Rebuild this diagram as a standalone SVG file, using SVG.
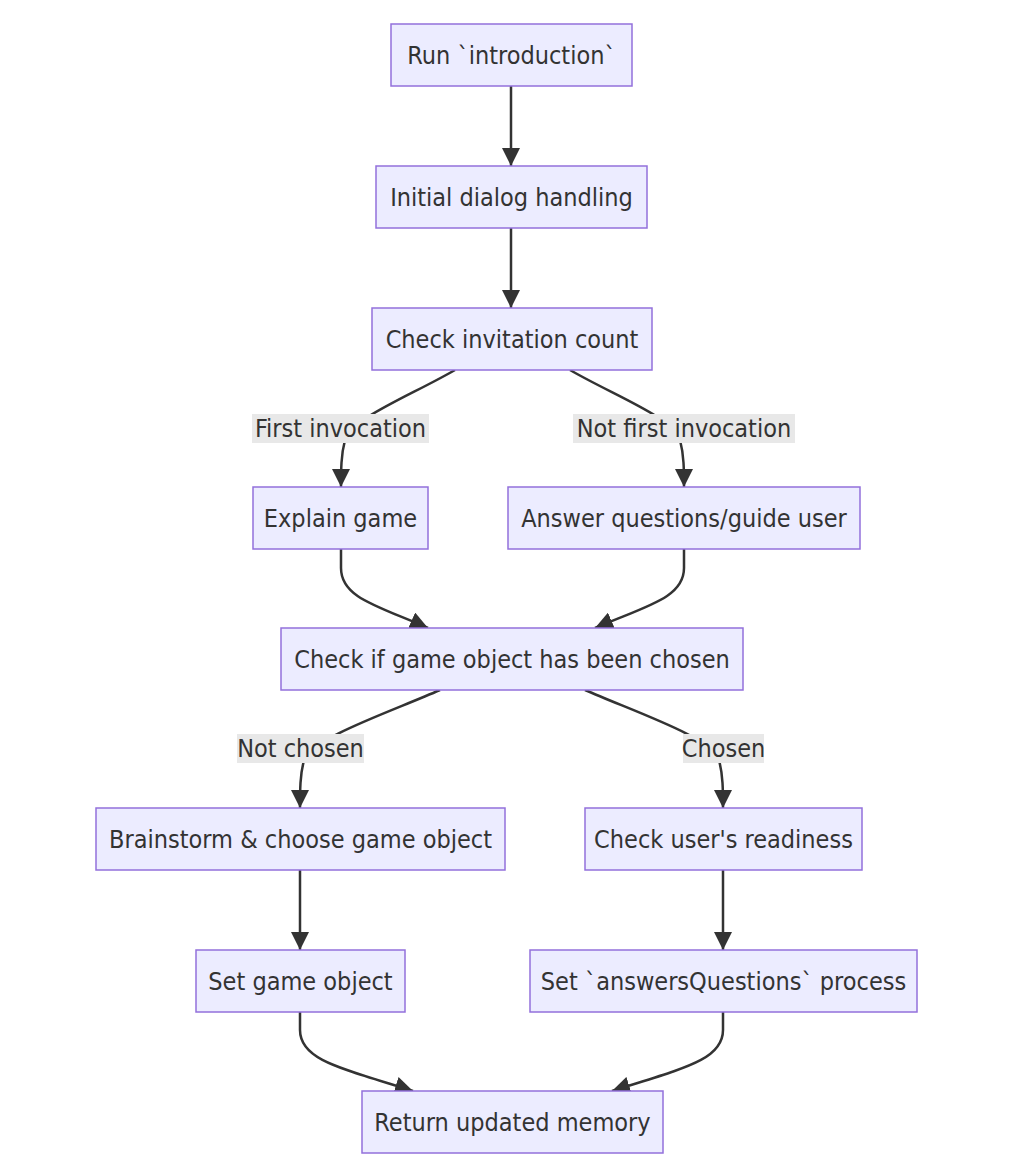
<svg xmlns="http://www.w3.org/2000/svg" width="1032" height="1174" viewBox="0 0 1032 1174">
  <style>
    .node rect { fill: #ECECFF; stroke: #9370DB; stroke-width: 1.5; }
    text { font-family: "DejaVu Sans Condensed", "DejaVu Sans", sans-serif; font-stretch: condensed; font-size: 25px; fill: #333333; text-anchor: middle; }
    .edge { fill: none; stroke: #333333; stroke-width: 2.5; marker-end: url(#arrow); }
    .lbl rect { fill: #e8e8e8; }
  </style>
  <defs>
    <marker id="arrow" viewBox="0 0 10 10" refX="10" refY="5" markerUnits="userSpaceOnUse" markerWidth="18" markerHeight="18" orient="auto">
      <path d="M0,0 L10,5 L0,10 z" fill="#333333"/>
    </marker>
  </defs>
  <rect width="1032" height="1174" fill="#ffffff"/>

  <g id="connectors">
    <path class="edge" d="M511,86 L511,166"/>
    <path class="edge" d="M511,228 L511,308"/>
    <path class="edge" d="M455,370 C410,396 352,418 345,440 C341,455 341,470 341,487"/>
    <path class="edge" d="M570,370 C615,396 674,418 680,440 C684,455 684,470 684,487"/>
    <path class="edge" d="M341,549 L341,568 C341,598 378,606 428,628"/>
    <path class="edge" d="M684,549 L684,568 C684,598 646,606 595,628"/>
    <path class="edge" d="M440,690 C390,712 312,738 304,760 C300,775 300,790 300,808"/>
    <path class="edge" d="M585,690 C635,712 713,738 719,760 C723,775 723,790 723,808"/>
    <path class="edge" d="M300,870 L300,950"/>
    <path class="edge" d="M723,870 L723,950"/>
    <path class="edge" d="M300,1012 L300,1030 C300,1060 340,1068 413,1091"/>
    <path class="edge" d="M723,1012 L723,1030 C723,1060 684,1068 612,1091"/>

    <g class="lbl">
      <rect x="252" y="414" width="177" height="29"/>
      <text x="340.5" y="437">First invocation</text>
    </g>
    <g class="lbl">
      <rect x="573" y="414" width="222" height="29"/>
      <text x="684" y="437">Not first invocation</text>
    </g>
    <g class="lbl">
      <rect x="237" y="734" width="127" height="29"/>
      <text x="300.5" y="757">Not chosen</text>
    </g>
    <g class="lbl">
      <rect x="683" y="734" width="81" height="29"/>
      <text x="723.5" y="757">Chosen</text>
    </g>
  </g>

  <g id="run-introduction" class="node">
    <rect x="391" y="24" width="241" height="62"/>
    <text x="511.5" y="64">Run `introduction`</text>
  </g>
  <g id="initial-dialog" class="node">
    <rect x="376" y="166" width="271" height="62"/>
    <text x="511.5" y="206">Initial dialog handling</text>
  </g>
  <g id="check-invitation" class="node">
    <rect x="372" y="308" width="280" height="62"/>
    <text x="512" y="348">Check invitation count</text>
  </g>
  <g id="explain-game" class="node">
    <rect x="253" y="487" width="175" height="62"/>
    <text x="340.5" y="527">Explain game</text>
  </g>
  <g id="answer-questions" class="node">
    <rect x="508" y="487" width="352" height="62"/>
    <text x="684" y="527">Answer questions/guide user</text>
  </g>
  <g id="check-object" class="node">
    <rect x="281" y="628" width="462" height="62"/>
    <text x="512" y="668">Check if game object has been chosen</text>
  </g>
  <g id="brainstorm" class="node">
    <rect x="96" y="808" width="409" height="62"/>
    <text x="300.5" y="848">Brainstorm &amp; choose game object</text>
  </g>
  <g id="check-readiness" class="node">
    <rect x="585" y="808" width="277" height="62"/>
    <text x="723.5" y="848">Check user's readiness</text>
  </g>
  <g id="set-object" class="node">
    <rect x="196" y="950" width="209" height="62"/>
    <text x="300.5" y="990">Set game object</text>
  </g>
  <g id="set-answers" class="node">
    <rect x="530" y="950" width="387" height="62"/>
    <text x="723.5" y="990">Set `answersQuestions` process</text>
  </g>
  <g id="return-memory" class="node">
    <rect x="362" y="1091" width="301" height="62"/>
    <text x="512.5" y="1131">Return updated memory</text>
  </g>
</svg>
